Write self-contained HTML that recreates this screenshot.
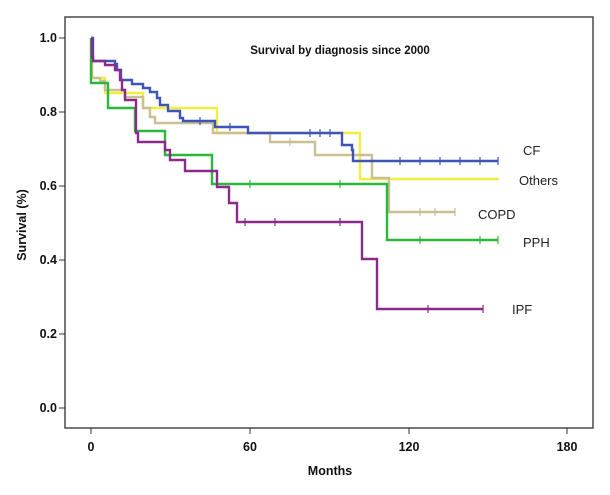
<!DOCTYPE html>
<html><head><meta charset="utf-8"><style>
body{margin:0;background:#fff;}
svg text{font-family:"Liberation Sans",Arial,sans-serif;}
</style></head><body>
<svg width="610" height="490" viewBox="0 0 610 490" xmlns="http://www.w3.org/2000/svg">
<rect x="0" y="0" width="610" height="490" fill="#fff"/>
<rect x="65" y="17" width="528" height="411" fill="none" stroke="#555" stroke-width="1.6"/>
<g stroke="#333" stroke-width="1">
<line x1="59" y1="38" x2="65" y2="38"/><line x1="59" y1="112" x2="65" y2="112"/>
<line x1="59" y1="186" x2="65" y2="186"/><line x1="59" y1="260" x2="65" y2="260"/>
<line x1="59" y1="334" x2="65" y2="334"/><line x1="59" y1="408" x2="65" y2="408"/>
<line x1="91" y1="428" x2="91" y2="434"/><line x1="250" y1="428" x2="250" y2="434"/>
<line x1="409" y1="428" x2="409" y2="434"/><line x1="567" y1="428" x2="567" y2="434"/>
</g>
<g font-size="12.5" font-weight="bold" fill="#111" text-anchor="end">
<text x="57" y="42">1.0</text><text x="57" y="116">0.8</text><text x="57" y="190">0.6</text>
<text x="57" y="264">0.4</text><text x="57" y="338">0.2</text><text x="57" y="412">0.0</text>
</g>
<g font-size="12.5" font-weight="bold" fill="#111" text-anchor="middle">
<text x="91" y="451">0</text><text x="250" y="451">60</text><text x="409" y="451">120</text><text x="567" y="451">180</text>
<text x="330" y="475">Months</text>
</g>
<text transform="translate(26,225) rotate(-90)" font-size="12.5" font-weight="bold" text-anchor="middle" fill="#111">Survival (%)</text>
<text x="340" y="54" font-size="11.5" font-weight="bold" text-anchor="middle" fill="#111">Survival by diagnosis since 2000</text>
<g fill="none" stroke-width="2.4" stroke-linejoin="miter">
<polyline stroke="#f2ee3e" points="91,38 92,38 92,78 105,78 105,93 143,93 143,108 217,108 217,133 360,133 360,179 499,179"/>
<polyline stroke="#c9bf92" points="91,38 92,38 92,78 100,78 100,81 105,81 105,90 125,90 125,97 143,97 143,108 150,108 150,117 155,117 155,123 213,123 213,133 270,133 270,142 315,142 315,155 372,155 372,178 389,178 389,212 455,212"/>
<polyline stroke="#2cb63a" points="91,38 91,83 108,83 108,108 135,108 135,131 165,131 165,155 212,155 212,184 387,184 387,240 498,240"/>
<polyline stroke="#3d55b6" points="91,38 93,38 93,61 115,61 115,64 117,64 117,70 121,70 121,80 132,80 132,84 143,84 143,88 150,88 150,92 157,92 157,98 160,98 160,105 168,105 168,111 180,111 180,118 183,118 183,121 215,121 215,127 248,127 248,133 342,133 342,145 352,145 352,150 353,150 353,161 498,161"/>
<polyline stroke="#8a2b8c" points="92,38 92,57 93,57 93,61 105,61 105,65 115,65 115,70 120,70 120,80 122,80 122,90 125,90 125,100 136,100 136,133 138,133 138,142 165,142 165,150 170,150 170,160 185,160 185,171 217,171 217,187 229,187 229,203 237,203 237,222 362,222 362,259 377,259 377,309 483,309"/>
</g>
<g stroke-width="1.2">
<g stroke="#3d55b6"><line x1="400" y1="157" x2="400" y2="165"/><line x1="420" y1="157" x2="420" y2="165"/><line x1="440" y1="157" x2="440" y2="165"/><line x1="460" y1="157" x2="460" y2="165"/><line x1="480" y1="157" x2="480" y2="165"/><line x1="498" y1="157" x2="498" y2="165"/><line x1="310" y1="129" x2="310" y2="137"/><line x1="320" y1="129" x2="320" y2="137"/><line x1="330" y1="129" x2="330" y2="137"/><line x1="200" y1="117" x2="200" y2="125"/><line x1="230" y1="123" x2="230" y2="131"/></g>
<g stroke="#c9bf92"><line x1="420" y1="208" x2="420" y2="216"/><line x1="435" y1="208" x2="435" y2="216"/><line x1="455" y1="208" x2="455" y2="216"/><line x1="290" y1="138" x2="290" y2="146"/></g>
<g stroke="#2cb63a"><line x1="420" y1="236" x2="420" y2="244"/><line x1="480" y1="236" x2="480" y2="244"/><line x1="498" y1="236" x2="498" y2="244"/><line x1="340" y1="180" x2="340" y2="188"/><line x1="250" y1="180" x2="250" y2="188"/></g>
<g stroke="#8a2b8c"><line x1="428" y1="305" x2="428" y2="313"/><line x1="483" y1="305" x2="483" y2="313"/><line x1="340" y1="218" x2="340" y2="226"/><line x1="275" y1="218" x2="275" y2="226"/><line x1="245" y1="218" x2="245" y2="226"/></g>
</g>
<g font-size="13" fill="#222">
<text x="523" y="155">CF</text><text x="519" y="185">Others</text><text x="478" y="219">COPD</text>
<text x="523" y="247">PPH</text><text x="512" y="314">IPF</text>
</g>
</svg>
</body></html>
